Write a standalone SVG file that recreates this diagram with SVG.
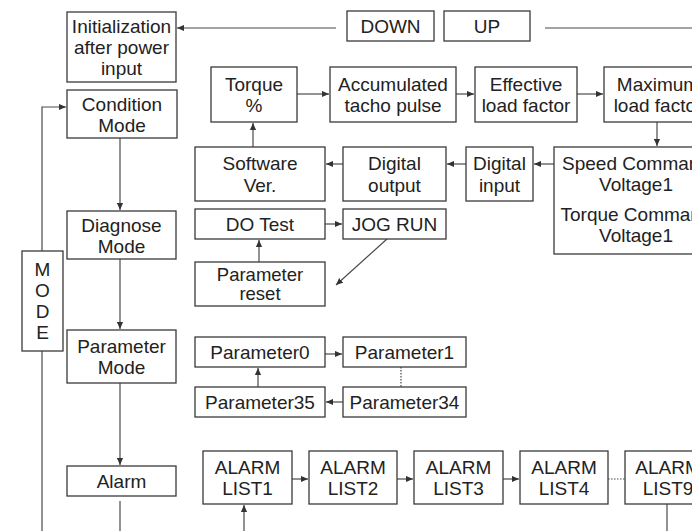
<svg xmlns="http://www.w3.org/2000/svg" width="692" height="531" viewBox="0 0 692 531">
<style>
.b{fill:#fff;stroke:#3a3a3a;stroke-width:1.3}
.t{font-family:"Liberation Sans",Arial,sans-serif;font-size:19px;fill:#222;text-anchor:middle}
.s{font-size:18.5px}
.c{fill:none;stroke:#4a4a4a;stroke-width:1.2}
.d{fill:none;stroke:#4a4a4a;stroke-width:1.2;stroke-dasharray:1.5 1.5}
</style>
<defs>
<marker id="a" viewBox="0 0 8 8" refX="8" refY="4" markerWidth="7" markerHeight="7" markerUnits="userSpaceOnUse" orient="auto">
<path d="M0,0.5 L8,4 L0,7.5 Z" fill="#333"/>
</marker>
</defs>
<rect width="692" height="531" fill="#fff"/>
<g id="connectors">
<line class="c" x1="336" y1="28" x2="177" y2="28" marker-end="url(#a)"/>
<line class="c" x1="545" y1="28" x2="692" y2="28"/>
<polyline class="c" points="42,251 42,107 66,107" marker-end="url(#a)"/>
<line class="c" x1="42" y1="351" x2="42" y2="531"/>
<line class="c" x1="120" y1="138" x2="120" y2="210" marker-end="url(#a)"/>
<line class="c" x1="120" y1="259" x2="120" y2="329" marker-end="url(#a)"/>
<line class="c" x1="120" y1="383" x2="120" y2="465" marker-end="url(#a)"/>
<line class="c" x1="120" y1="501" x2="120" y2="531"/>
<line class="c" x1="297" y1="94" x2="329" y2="94" marker-end="url(#a)"/>
<line class="c" x1="456" y1="94" x2="474" y2="94" marker-end="url(#a)"/>
<line class="c" x1="577" y1="94" x2="603" y2="94" marker-end="url(#a)"/>
<line class="c" x1="657" y1="122" x2="657" y2="146" marker-end="url(#a)"/>
<line class="c" x1="554" y1="164" x2="534" y2="164" marker-end="url(#a)"/>
<line class="c" x1="466" y1="164" x2="447" y2="164" marker-end="url(#a)"/>
<line class="c" x1="343" y1="164" x2="326" y2="164" marker-end="url(#a)"/>
<line class="c" x1="253" y1="147" x2="253" y2="123" marker-end="url(#a)"/>
<line class="c" x1="325" y1="224" x2="342" y2="224" marker-end="url(#a)"/>
<line class="c" x1="387" y1="239" x2="336" y2="285" marker-end="url(#a)"/>
<line class="c" x1="259" y1="262" x2="259" y2="240" marker-end="url(#a)"/>
<line class="c" x1="325" y1="354" x2="342" y2="354" marker-end="url(#a)"/>
<line class="d" x1="401" y1="367" x2="401" y2="387"/>
<line class="c" x1="343" y1="402" x2="326" y2="402" marker-end="url(#a)"/>
<line class="c" x1="258" y1="387" x2="258" y2="368" marker-end="url(#a)"/>
<line class="c" x1="292" y1="479" x2="308" y2="479" marker-end="url(#a)"/>
<line class="c" x1="397" y1="479" x2="413" y2="479" marker-end="url(#a)"/>
<line class="c" x1="503" y1="479" x2="519" y2="479" marker-end="url(#a)"/>
<line class="d" x1="608" y1="479" x2="625" y2="479"/>
<line class="c" x1="244" y1="531" x2="244" y2="505" marker-end="url(#a)"/>
<line class="c" x1="667" y1="504" x2="667" y2="531"/>
</g>
<g id="init"><rect class="b" x="67" y="12" width="109" height="70"/><text class="t" x="121.5" y="33">Initialization</text><text class="t" x="121.5" y="54">after power</text><text class="t" x="121.5" y="75">input</text></g>
<g id="down"><rect class="b" x="347" y="11" width="87" height="30"/><text class="t" x="390.5" y="33">DOWN</text></g>
<g id="up"><rect class="b" x="444" y="11" width="86" height="30"/><text class="t" x="487" y="33">UP</text></g>
<g id="condition"><rect class="b" x="67" y="90" width="110" height="48"/><text class="t" x="122" y="111">Condition</text><text class="t" x="122" y="132">Mode</text></g>
<g id="diagnose"><rect class="b" x="67" y="211" width="109" height="48"/><text class="t" x="121.5" y="232">Diagnose</text><text class="t" x="121.5" y="253">Mode</text></g>
<g id="parammode"><rect class="b" x="67" y="330" width="109" height="53"/><text class="t" x="121.5" y="353">Parameter</text><text class="t" x="121.5" y="374">Mode</text></g>
<g id="alarm"><rect class="b" x="67" y="466" width="109" height="30"/><text class="t" x="121.5" y="488">Alarm</text></g>
<g id="mode"><rect class="b" x="22" y="251" width="41" height="100"/><text class="t" x="42.5" y="276">M</text><text class="t" x="42.5" y="297">O</text><text class="t" x="42.5" y="318">D</text><text class="t" x="42.5" y="339">E</text></g>
<g id="torque"><rect class="b" x="211" y="67" width="86" height="55"/><text class="t" x="254" y="91">Torque</text><text class="t" x="254" y="112">%</text></g>
<g id="accum"><rect class="b" x="330" y="67" width="126" height="55"/><text class="t" x="393" y="91">Accumulated</text><text class="t" x="393" y="112">tacho pulse</text></g>
<g id="effective"><rect class="b" x="475" y="67" width="102" height="55"/><text class="t" x="526" y="91">Effective</text><text class="t" x="526" y="112">load factor</text></g>
<g id="maximum"><rect class="b" x="604" y="67" width="108" height="55"/><text class="t" x="658" y="91">Maximum</text><text class="t" x="658" y="112">load factor</text></g>
<g id="speed"><rect class="b" x="554" y="147" width="164" height="107"/><text class="t" x="636" y="170">Speed Command</text><text class="t" x="636" y="191">Voltage1</text><text class="t" x="636" y="221">Torque Command</text><text class="t" x="636" y="242">Voltage1</text></g>
<g id="dinput"><rect class="b" x="466" y="147" width="67" height="54"/><text class="t" x="499.5" y="170">Digital</text><text class="t" x="499.5" y="192">input</text></g>
<g id="doutput"><rect class="b" x="343" y="147" width="103" height="54"/><text class="t" x="394.5" y="170">Digital</text><text class="t" x="394.5" y="192">output</text></g>
<g id="software"><rect class="b" x="195" y="147" width="130" height="54"/><text class="t" x="260" y="170">Software</text><text class="t" x="260" y="192">Ver.</text></g>
<g id="dotest"><rect class="b" x="195" y="209" width="130" height="30"/><text class="t" x="260" y="231">DO Test</text></g>
<g id="jogrun"><rect class="b" x="343" y="209" width="103" height="30"/><text class="t" x="394.5" y="231">JOG RUN</text></g>
<g id="preset"><rect class="b" x="195" y="262" width="130" height="44"/><text class="t s" x="260" y="281">Parameter</text><text class="t s" x="260" y="300">reset</text></g>
<g id="p0"><rect class="b" x="195" y="337" width="130" height="30"/><text class="t" x="260" y="359">Parameter0</text></g>
<g id="p1"><rect class="b" x="343" y="337" width="123" height="30"/><text class="t" x="404.5" y="359">Parameter1</text></g>
<g id="p35"><rect class="b" x="195" y="387" width="130" height="30"/><text class="t" x="260" y="409">Parameter35</text></g>
<g id="p34"><rect class="b" x="343" y="387" width="123" height="30"/><text class="t" x="404.5" y="409">Parameter34</text></g>
<g id="list1"><rect class="b" x="203" y="451" width="89" height="53"/><text class="t" x="247.5" y="474">ALARM</text><text class="t" x="247.5" y="495">LIST1</text></g>
<g id="list2"><rect class="b" x="309" y="451" width="88" height="53"/><text class="t" x="353" y="474">ALARM</text><text class="t" x="353" y="495">LIST2</text></g>
<g id="list3"><rect class="b" x="414" y="451" width="89" height="53"/><text class="t" x="458.5" y="474">ALARM</text><text class="t" x="458.5" y="495">LIST3</text></g>
<g id="list4"><rect class="b" x="520" y="451" width="88" height="53"/><text class="t" x="564" y="474">ALARM</text><text class="t" x="564" y="495">LIST4</text></g>
<g id="list9"><rect class="b" x="625" y="451" width="86" height="53"/><text class="t" x="668" y="474">ALARM</text><text class="t" x="668" y="495">LIST9</text></g>
</svg>
